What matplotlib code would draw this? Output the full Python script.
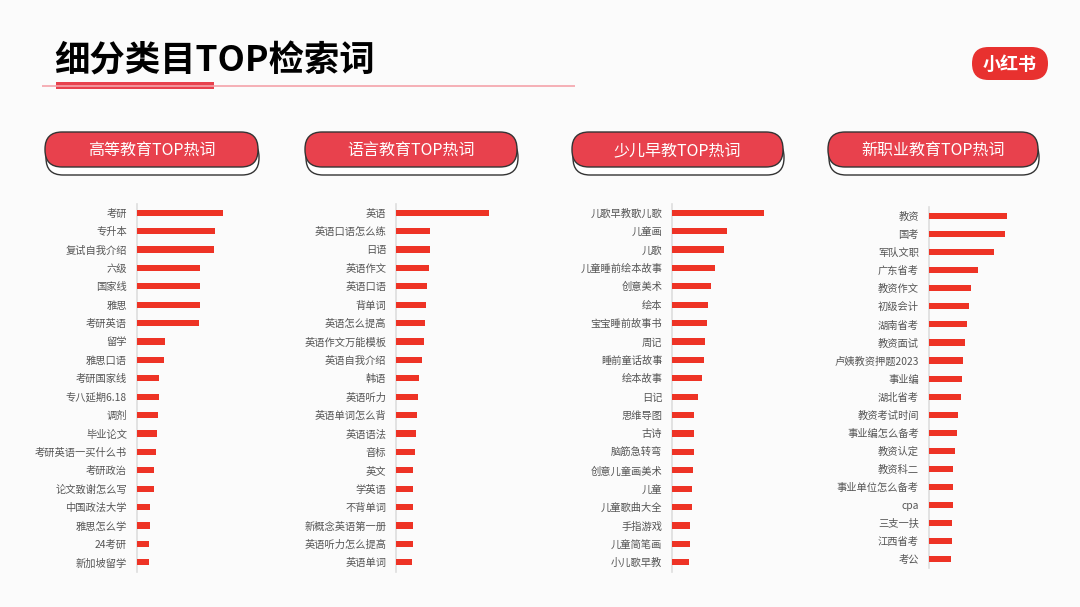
import matplotlib.pyplot as plt
from matplotlib.patches import FancyBboxPatch, Rectangle

plt.rcParams["font.family"] = ["Noto Sans CJK SC", "DejaVu Sans"]

W, H = 1080, 607

title = "细分类目TOP检索词"

higher_titles = "高等教育TOP热词"
higher_terms = ["考研", "专升本", "复试自我介绍", "六级", "国家线", "雅思", "考研英语", "留学",
                "雅思口语", "考研国家线", "专八延期6.18", "调剂", "毕业论文", "考研英语一买什么书",
                "考研政治", "论文致谢怎么写", "中国政法大学", "雅思怎么学", "24考研", "新加坡留学"]
higher_values = [86, 78.6, 77.3, 63.6, 63.3, 63.3, 62.3, 28, 27.3, 22, 22, 21.3, 20.3, 19,
                 17.7, 17.7, 13.7, 13.7, 12.3, 12]

language_title = "语言教育TOP热词"
language_terms = ["英语", "英语口语怎么练", "日语", "英语作文", "英语口语", "背单词", "英语怎么提高",
                  "英语作文万能模板", "英语自我介绍", "韩语", "英语听力", "英语单词怎么背", "英语语法",
                  "音标", "英文", "学英语", "不背单词", "新概念英语第一册", "英语听力怎么提高", "英语单词"]
language_values = [93, 34.3, 34.3, 32.7, 31.3, 30.3, 29, 28.3, 25.7, 22.7, 21.7, 21, 19.7,
                   19, 17.3, 17.3, 17, 17, 16.7, 16]

kids_title = "少儿早教TOP热词"
kids_terms = ["儿歌早教歌儿歌", "儿童画", "儿歌", "儿童睡前绘本故事", "创意美术", "绘本", "宝宝睡前故事书",
              "周记", "睡前童话故事", "绘本故事", "日记", "思维导图", "古诗", "脑筋急转弯", "创意儿童画美术",
              "儿童", "儿童歌曲大全", "手指游戏", "儿童简笔画", "小儿歌早教"]
kids_values = [91.7, 54.7, 51.7, 43.3, 38.7, 36.3, 35, 32.7, 31.7, 29.7, 26, 22.3, 21.7, 21.7,
               20.7, 20, 19.7, 18, 17.7, 17.3]

career_title = "新职业教育TOP热词"
career_terms = ["教资", "国考", "军队文职", "广东省考", "教资作文", "初级会计", "湖南省考", "教资面试",
                "卢姨教资押题2023", "事业编", "湖北省考", "教资考试时间", "事业编怎么备考", "教资认定",
                "教资科二", "事业单位怎么备考", "cpa", "三支一扶", "江西省考", "考公"]
career_values = [78, 76.3, 65, 49.3, 42.7, 40.3, 38, 36, 34.7, 33.3, 32.7, 29.7, 28, 26.3,
                 24.3, 24, 24, 23.7, 23.7, 22.7]

PILL_RED = "#e8414d"
BAR_RED = "#ee3325"

fig = plt.figure(figsize=(W / 100, H / 100), dpi=100)
fig.patch.set_facecolor("#fbfbfb")

# overlay in pixel units for the decorations
deco = fig.add_axes([0, 0, 1, 1])
deco.set_xlim(0, W)
deco.set_ylim(H, 0)
deco.axis("off")
deco.set_zorder(0)

deco.text(54, 61, title, fontsize=25.5, fontweight="heavy", color="#000000", va="center", ha="left")
deco.plot([42, 575], [86, 86], color="#f4a3aa", lw=1.2, solid_capstyle="butt")
deco.add_patch(Rectangle((56, 82), 158, 7, color=PILL_RED, lw=0))

# logo
deco.add_patch(FancyBboxPatch((972, 47), 76, 33, boxstyle="round,pad=0,rounding_size=16.5",
                              facecolor="#e8312f", edgecolor="none"))
deco.text(1010, 64, "小红书", fontsize=13, fontweight="bold", color="white", ha="center", va="center")


def header_pill(x0, x1, text):
    y0, y1 = 132, 167
    shadow = FancyBboxPatch((x0 + 1, y0 + 8), x1 - x0, y1 - y0, boxstyle="round,pad=0,rounding_size=17",
                            facecolor="white", edgecolor="#333333", lw=1.0)
    pill = FancyBboxPatch((x0, y0), x1 - x0, y1 - y0, boxstyle="round,pad=0,rounding_size=17",
                          facecolor=PILL_RED, edgecolor="#333333", lw=1.0)
    deco.add_patch(shadow)
    deco.add_patch(pill)
    deco.text((x0 + x1) / 2, (y0 + y1) / 2 + 1, text, fontsize=11.5, color="white", ha="center", va="center")


panels = [
    (higher_titles, higher_terms, higher_values, (45, 258), 136.7, 212.7, 562.3),
    (language_title, language_terms, language_values, (305, 517), 396.0, 212.7, 562.3),
    (kids_title, kids_terms, kids_values, (572, 783), 672.0, 212.7, 562.3),
    (career_title, career_terms, career_values, (828, 1038), 928.7, 216.0, 559.3),
]

for head, terms, values, (px0, px1), axis_x, first_y, last_y in panels:
    header_pill(px0, px1, head)
    n = len(terms)
    step = (last_y - first_y) / (n - 1)
    top = first_y - step / 2
    bottom = last_y + step / 2
    width_px = 110
    ax = fig.add_axes([axis_x / W, 1 - bottom / H, width_px / W, (bottom - top) / H])
    ax.set_facecolor("none")
    ax.barh(range(n), values, height=0.34, color=BAR_RED, zorder=3)
    ax.set_xlim(0, width_px)
    ax.set_ylim(n - 0.5, -0.5)
    ax.set_yticks(range(n))
    ax.set_yticklabels(terms, fontsize=7.4, color="#555555")
    ax.tick_params(axis="y", length=0, pad=7)
    ax.set_xticks([])
    for side in ["top", "right", "bottom"]:
        ax.spines[side].set_visible(False)
    ax.spines["left"].set_color("#dddddd")
    ax.spines["left"].set_linewidth(1.2)

fig.savefig("out.png", dpi=100, facecolor=fig.get_facecolor())
